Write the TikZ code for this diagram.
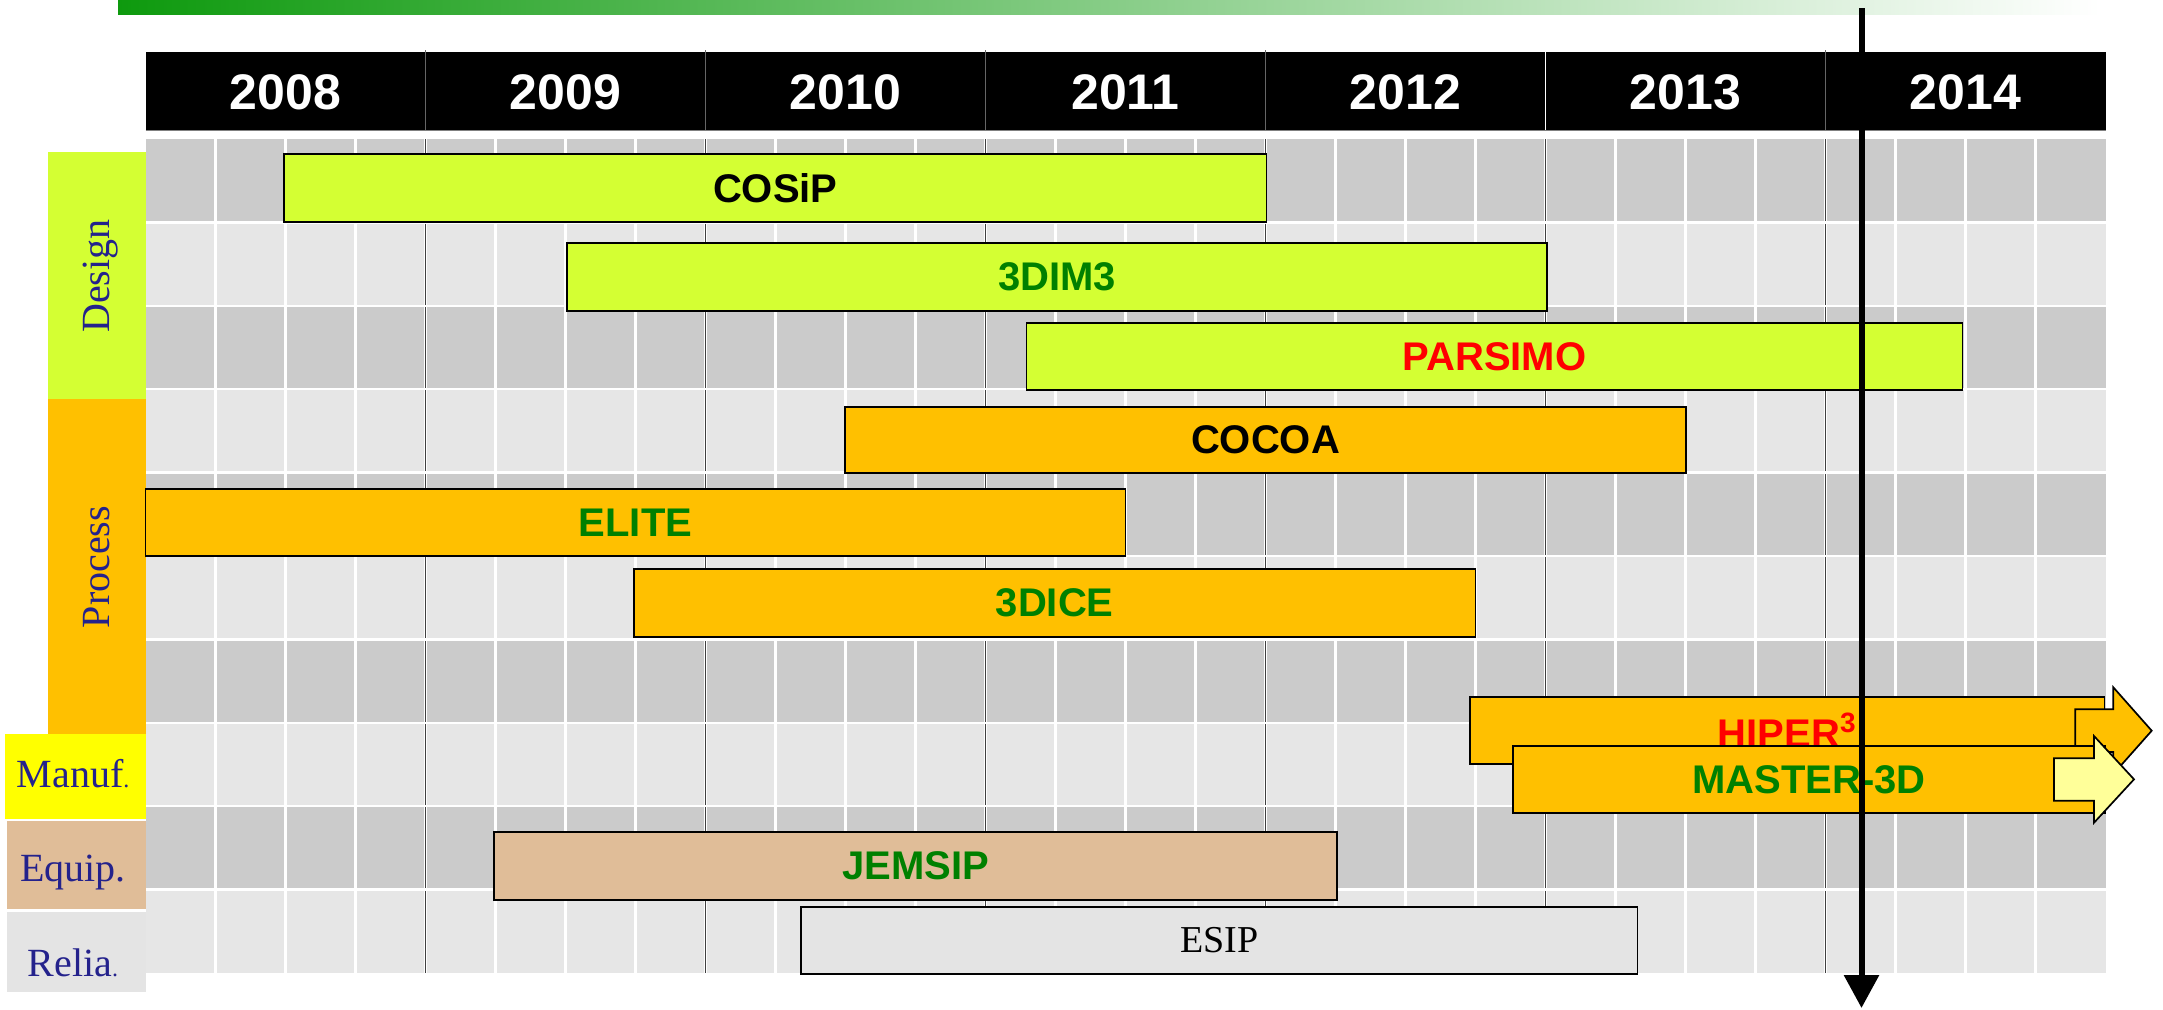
\documentclass[tikz,border=0pt]{standalone}
\usepackage{fontspec}
\setmainfont{Liberation Serif}
\newfontfamily\arialfont{Liberation Sans}
\usetikzlibrary{fit,arrows.meta}

\definecolor{topgreen}{RGB}{14,154,14}
\definecolor{designlime}{RGB}{212,255,51}
\definecolor{procorange}{RGB}{255,192,0}
\definecolor{manufyellow}{RGB}{255,255,0}
\definecolor{equiptan}{RGB}{224,189,152}
\definecolor{relialight}{RGB}{228,228,228}
\definecolor{rowdark}{RGB}{203,203,203}
\definecolor{rowlight}{RGB}{230,230,230}
\definecolor{yeargray}{RGB}{64,64,64}
\definecolor{catblue}{RGB}{36,34,140}
\definecolor{txtgreen}{RGB}{0,128,0}
\definecolor{txtred}{RGB}{255,0,0}
\definecolor{paleyellow}{RGB}{255,255,153}

\tikzset{
  task/.style={draw=black, line width=0.85pt, inner sep=0pt},
  tasklab/.style={inner sep=0pt, font=\arialfont\bfseries\fontsize{20}{24}\selectfont},
  yearlab/.style={text=white, font=\arialfont\bfseries\fontsize{25}{30}\selectfont},
  catlab/.style={text=catblue, anchor=base, font=\fontsize{20}{24}\selectfont},
  blockarrow/.style={draw=black, line width=0.85pt, line join=miter},
  nowline/.style={line width=3pt, -{Triangle[length=16.5pt,width=17pt]}},
}

\begin{document}
\begin{tikzpicture}[x=0.5pt,y=-0.5pt]
\useasboundingbox (0,0) rectangle (2163,1009);
% top bar
\shade[left color=topgreen, right color=white] (118,0) rectangle (2100,14.7);
% header
\fill[black] (145.5,52) rectangle (2105.5,130);
\draw[gray, line width=0.5pt] (145.5,130) -- (2105.5,130);
\foreach \k in {1,2,3,4,6}
  \draw[gray!80!black, line width=0.7pt] (145.5+280*\k,50) -- (145.5+280*\k,130);
\draw[white, line width=0.7pt] (1545.5,52) -- (1545.5,130);
\foreach \yr [count=\k from 0] in {2008,...,2014}
  \node[yearlab] (y\yr) at (285.5+280*\k,92) {\yr};
% grid
\foreach \i in {0,...,9}{
  \ifodd\i \def\rowcol{rowlight}\else \def\rowcol{rowdark}\fi
  \fill[\rowcol] (145.5,139+83.4*\i) rectangle (2105.5,222.4+83.4*\i);
}
\foreach \q in {1,...,27}
  \draw[white, line width=1.2pt] (145.5+70*\q,139) -- (145.5+70*\q,973);
\foreach \k in {1,...,6}
  \draw[yeargray, line width=0.9pt] (145.5+280*\k,139) -- (145.5+280*\k,973);
\foreach \i in {1,...,9}
  \draw[white, line width=1.2pt] (145.5,139+83.4*\i) -- (2105.5,139+83.4*\i);
% categories
\fill[designlime] (48,152) rectangle (145.5,399);
\fill[procorange] (48,399) rectangle (145.5,734);
\fill[manufyellow] (5,734) rectangle (145.5,819);
\fill[equiptan] (6.5,821) rectangle (145.5,909);
\fill[relialight] (6.5,911.7) rectangle (145.5,991.7);
\node[catlab, rotate=90] (design) at (109.5,276) {Design};
\node[catlab, rotate=90] (process) at (109.5,567) {Process};
\node[catlab] (manuf) at (73,787) {Manuf{\fontsize{12}{14}\selectfont.}};
\node[catlab] (equip) at (73,881.7) {Equip.};
\node[catlab] (relia) at (73,976.7) {Relia{\fontsize{12}{14}\selectfont.}};
% projects
\node[task, fill=designlime, fit={(284,154.3) (1266.5,221.7)}] (cosip) {};
\node[tasklab] (cosiptxt) at (cosip) {COSiP};
\node[task, fill=designlime, fit={(567,242.7) (1547,310.7)}] (dimthree) {};
\node[tasklab, text=txtgreen] (dimthreetxt) at (dimthree) {3DIM3};
\node[task, fill=designlime, fit={(1026.5,322.7) (1962.5,390)}] (parsimo) {};
\node[tasklab, text=txtred] (parsimotxt) at (parsimo) {PARSIMO};
\node[task, fill=procorange, fit={(845,406.7) (1686,473)}] (cocoa) {};
\node[tasklab] (cocoatxt) at (cocoa) {COCOA};
\node[task, fill=procorange, fit={(145.5,489) (1125.5,556)}] (elite) {};
\node[tasklab, text=txtgreen] (elitetxt) at (elite) {ELITE};
\node[task, fill=procorange, fit={(634,569.3) (1475.5,636.7)}] (dice) {};
\node[tasklab, text=txtgreen] (dicetxt) at (dice) {3DICE};
\node[task, fill=procorange, fit={(1470,696.7) (2104.5,764.3)}] (hiper) {};
\draw[blockarrow, fill=procorange] (2075.3,709.3) -- (2113.3,709.3) -- (2113.3,687.3)
  -- (2151.7,730.7) -- (2113.3,774) -- (2113.3,752) -- (2075.3,752) -- cycle;
\node[tasklab, text=txtred] (hipertxt) at (hiper) {HIPER\textsuperscript{3}};
\node[task, fill=procorange, fit={(1513.3,745.7) (2105,813.3)}] (master) {};
\draw[blockarrow, fill=paleyellow] (2054,758.3) -- (2094,758.3) -- (2094,736)
  -- (2134,779.3) -- (2094,822.7) -- (2094,800.7) -- (2054,800.7) -- cycle;
\node[tasklab, text=txtgreen] (mastertxt) at (master) {MASTER-3D};
\node[task, fill=equiptan, fit={(494,832.3) (1337,900)}] (jemsip) {};
\node[tasklab, text=txtgreen] (jemsiptxt) at (jemsip) {JEMSIP};
\node[task, fill=relialight, fit={(801,906.7) (1637.5,974.3)}] (esip) {};
\node[inner sep=0pt, font=\fontsize{19}{23}\selectfont] (esiptxt) at (esip) {ESIP};
% today
\coordinate (nowtop) at (1861.5,8);
\coordinate (nowbot) at (1861.5,1008);
\draw[nowline] (nowtop) -- (nowbot);
\end{tikzpicture}
\end{document}
